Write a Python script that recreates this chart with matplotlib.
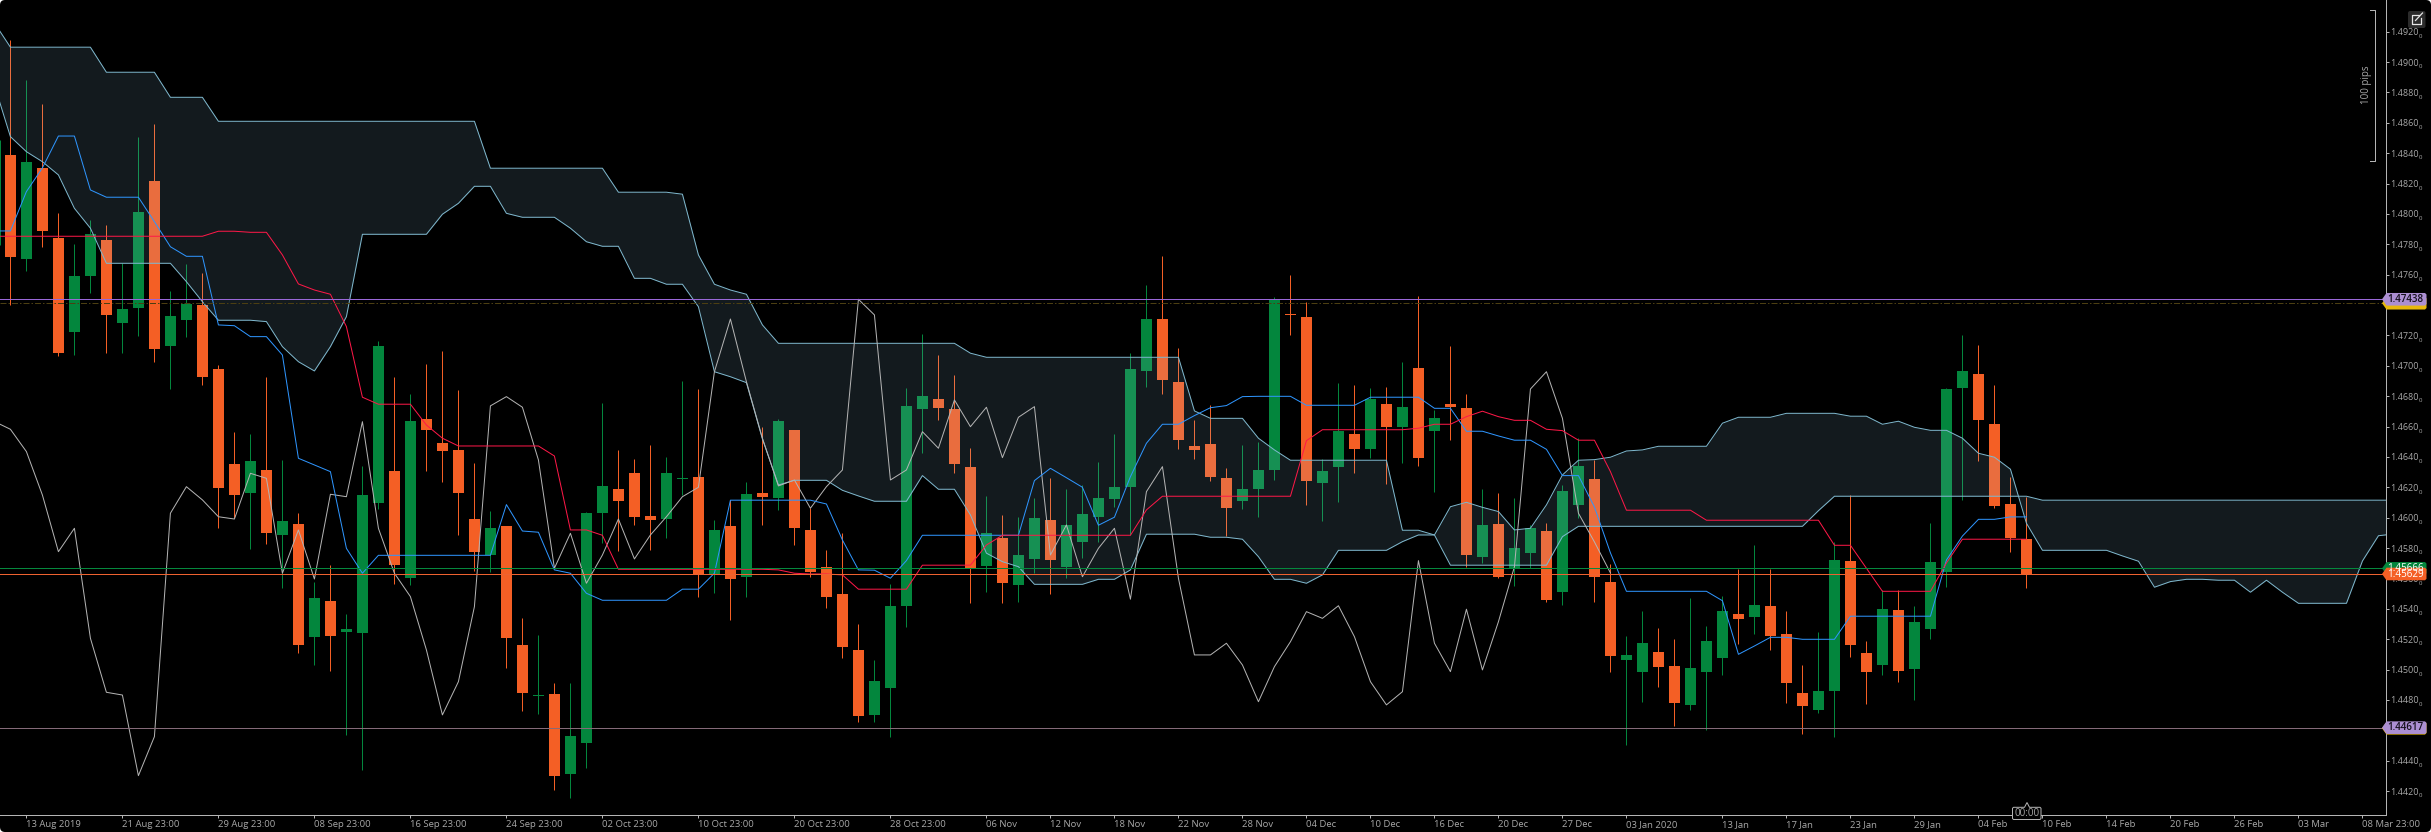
import numpy as np
import matplotlib
matplotlib.use("Agg")
import matplotlib.pyplot as plt
from matplotlib.patches import FancyBboxPatch, Polygon
from matplotlib.transforms import IdentityTransform

W, H = 2431, 832
plt.rcParams['font.family'] = ['Open Sans', 'DejaVu Sans']

highs = [1.49146,1.48882,1.48724,1.48004,1.47802,1.47960,1.47927,1.47677,1.48507,1.48592,
1.47493,1.47671,1.47611,1.47005,1.46564,1.46551,1.46926,1.46380,1.46029,1.45576,
1.45688,1.45366,1.46340,1.47163,1.46926,1.46814,1.47012,1.47098,1.46841,1.46360,
1.46044,1.45945,1.45340,1.45228,1.44911,1.44911,1.46037,1.46755,1.46446,1.46386,
1.46479,1.46400,1.46900,1.46847,1.45985,1.46117,1.46235,1.46597,1.46650,1.46577,
1.46064,1.45787,1.45899,1.45300,1.45063,1.45563,1.46854,1.47210,1.47071,1.46940,
1.46459,1.46143,1.46018,1.46005,1.46130,1.46261,1.46189,1.46215,1.46367,1.46551,
1.47084,1.47532,1.47723,1.47117,1.46643,1.46742,1.46327,1.46479,1.46498,1.47453,
1.47598,1.47420,1.46386,1.46887,1.46874,1.46854,1.46861,1.47025,1.47460,1.46709,
1.47131,1.46814,1.46189,1.46163,1.46130,1.45952,1.45965,1.46215,1.46525,1.46380,
1.45695,1.45221,1.45386,1.45274,1.45201,1.45471,1.45287,1.45484,1.45662,1.45820,
1.45662,1.45386,1.45030,1.45247,1.45840,1.46149,1.45188,1.45524,1.45524,1.45419,
1.45965,1.46854,1.47203,1.47137,1.46874,1.46268,1.46136]

lows = [1.47401,1.47626,1.47784,1.47065,1.47071,1.47478,1.47086,1.47086,1.47196,1.47027,
1.46849,1.47192,1.46874,1.45934,1.45996,1.45794,1.45827,1.45539,1.45111,1.45030,
1.44992,1.44569,1.44340,1.46059,1.45563,1.45557,1.46308,1.46235,1.45886,1.45649,
1.45642,1.45010,1.44727,1.44707,1.44207,1.44154,1.44352,1.45833,1.45781,1.45952,
1.45787,1.45866,1.46149,1.45478,1.45504,1.45326,1.45478,1.45952,1.46051,1.45820,
1.45610,1.45405,1.45076,1.44655,1.44655,1.44556,1.45280,1.46426,1.46643,1.46294,
1.45438,1.45511,1.45438,1.45445,1.45636,1.45498,1.45603,1.45735,1.45840,1.46070,
1.45886,1.46861,1.46814,1.46452,1.46386,1.46242,1.45879,1.46057,1.46005,1.46248,
1.47203,1.46084,1.45978,1.46103,1.46294,1.46393,1.46222,1.46360,1.46340,1.46169,
1.46512,1.45675,1.45702,1.45603,1.45550,1.45669,1.45445,1.45425,1.45998,1.45445,
1.44984,1.44503,1.44786,1.44885,1.44628,1.44734,1.44602,1.44964,1.45168,1.45234,
1.45129,1.44780,1.44576,1.44714,1.44556,1.45083,1.44773,1.44964,1.44918,1.44799,
1.45201,1.45544,1.46117,1.46373,1.46064,1.45774,1.45537]

opens = [1.48388,1.47705,1.48303,1.47842,1.47225,1.47593,1.47829,1.47284,1.47383,1.48217,
1.47133,1.47304,1.47401,1.46979,1.46354,1.46165,1.46314,1.45886,1.45958,1.45214,
1.45451,1.45249,1.45241,1.46097,1.46307,1.45603,1.46650,1.46492,1.46446,1.45991,
1.45754,1.45945,1.45162,1.44826,1.44839,1.44312,1.44516,1.46031,1.46189,1.46294,
1.46011,1.45991,1.46255,1.46268,1.45629,1.45945,1.45610,1.46163,1.46130,1.46577,
1.45919,1.45675,1.45498,1.45129,1.44701,1.44879,1.45419,1.46716,1.46782,1.46716,
1.46334,1.45682,1.45866,1.45557,1.45728,1.45985,1.45675,1.45840,1.46005,1.46123,
1.46202,1.46966,1.47308,1.46894,1.46472,1.46485,1.46261,1.46110,1.46189,1.46314,
1.47341,1.47322,1.46228,1.46334,1.46551,1.46452,1.46749,1.46597,1.46986,1.46571,
1.46749,1.46722,1.45741,1.45958,1.45669,1.45768,1.45912,1.45511,1.46084,1.46255,
1.45576,1.45063,1.44984,1.45116,1.45023,1.44767,1.44984,1.45076,1.45366,1.45346,
1.45419,1.45234,1.44846,1.44734,1.44859,1.45715,1.45109,1.45030,1.45392,1.45004,
1.45267,1.45642,1.46854,1.46946,1.46617,1.46090,1.45860]

closes = [1.47719,1.48342,1.47890,1.47086,1.47592,1.47868,1.47335,1.47374,1.48013,1.47111,
1.47328,1.47407,1.46926,1.46197,1.46149,1.46373,1.45899,1.45978,1.45162,1.45471,
1.45221,1.45267,1.46149,1.47131,1.45688,1.46637,1.46577,1.46439,1.46163,1.45774,
1.45932,1.45208,1.44846,1.44832,1.44299,1.44562,1.46031,1.46209,1.46110,1.46005,
1.45985,1.46294,1.46261,1.45623,1.45919,1.45596,1.46156,1.46136,1.46637,1.45932,
1.45642,1.45478,1.45149,1.44694,1.44925,1.45419,1.46736,1.46801,1.46722,1.46354,
1.45669,1.45899,1.45570,1.45754,1.45998,1.45721,1.45952,1.46024,1.46130,1.46202,
1.46979,1.47308,1.46907,1.46512,1.46446,1.46268,1.46064,1.46189,1.46314,1.47440,
1.47335,1.46242,1.46307,1.46571,1.46452,1.46782,1.46597,1.46729,1.46393,1.46656,
1.46729,1.45754,1.45952,1.45610,1.45800,1.45932,1.45458,1.46176,1.46340,1.45610,
1.45089,1.45096,1.45175,1.45017,1.44780,1.45010,1.45188,1.45386,1.45333,1.45425,
1.45221,1.44911,1.44760,1.44859,1.45721,1.45162,1.44984,1.45399,1.44990,1.45313,
1.45708,1.46847,1.46966,1.46643,1.46077,1.45866,1.45629]

# one candle of which only the wick shows at the left edge
edge_wick_x = -0.62
edge_wick = [1.48487, 1.47796]

# index -1 .. 126
tenkan = [1.47888,1.47888,1.48147,1.48303,1.48513,1.48513,1.48158,1.48110,1.48110,1.48110,1.47949,
1.47784,1.47721,1.47721,1.47269,1.47264,1.47192,1.47192,1.47071,1.46391,1.46347,1.46303,1.45798,1.45634,
1.45752,1.45752,1.45752,1.45752,1.45752,1.45752,1.45752,1.45752,1.46086,1.45912,1.45904,1.45656,1.45634,1.45502,
1.45456,1.45456,1.45456,1.45456,1.45456,1.45529,1.45529,1.45634,1.46115,1.46115,1.46115,1.46115,1.46115,
1.46115,1.46090,1.45853,1.45656,1.45654,1.45601,1.45717,
1.45884,1.45884,1.45884,1.45884,1.45884,1.45884,1.45884,1.46244,1.46325,1.46263,1.46200,1.45950,1.46003,1.46270,1.46490,
1.46615,1.46615,1.46672,1.46724,1.46738,1.46797,1.46799,1.46799,1.46799,
1.46740,1.46740,1.46740,1.46740,1.46793,1.46793,1.46793,1.46793,1.46720,1.46720,1.46569,1.46569,1.46538,1.46510,1.46510,1.46450,
1.46277,1.46277,1.46070,1.45768,1.45515,1.45515,1.45515,1.45515,1.45515,1.45515,1.45453,1.45100,1.45155,1.45212,1.45212,
1.45199,1.45199,1.45199,1.45351,1.45351,1.45351,1.45351,1.45351,1.45351,1.45721,1.45879,1.45989,1.45989,1.46005,1.46005]

kijun = [1.47853]*14 + [1.47886,1.47886,1.47879,1.47879,1.47730,1.47539,1.47499,1.47471,1.47258,1.46793,
1.46747,1.46747,1.46747,1.46610,1.46523] + [1.46472]*6 + [1.46406,1.45919,1.45919,1.45884] + [1.45660]*10 + [1.45656,1.45634,
1.45629,1.45629,1.45623] + [1.45529]*4 + [1.45687]*4 + [1.45820] + [1.45884]*9 + [1.46051] + [1.46141]*9 + [1.46507] + [1.46579]*6 + [
1.46589,1.46615,1.46615,1.46665,1.46701,1.46665,1.46641,1.46641,1.46582,1.46573,1.46510,1.46510,1.46303] + [1.46049]*5 + [1.45983]*8 + [
1.45818,1.45818,1.45667] + [1.45515]*4 + [1.45702] + [1.45858]*5

# index -1 .. 100
chikou = [1.46633,1.46582,1.46435,1.46149,1.45776,1.45930,1.45206,1.44850,1.44832,1.44301,1.44558,
1.46029,1.46204,1.46117,1.46006,1.45991,1.46292,1.46259,1.45634,1.45919,1.45596,
1.46154,1.46138,1.46632,1.45930,1.45634,1.45480,1.45129,1.44701,1.44920,1.45414,
1.46736,1.46797,1.46727,1.46380,1.45667,1.45897,1.45568,1.45754,1.45991,1.45728,
1.45886,1.46006,1.46138,1.46200,1.46961,1.47308,1.46895,1.46523,1.46209,1.46248,
1.46062,1.46204,1.46314,1.47438,1.47335,1.46248,1.46314,1.46566,1.46457,1.46775,
1.46599,1.46727,1.46395,1.46661,1.46731,1.45754,1.45952,1.45611,1.45798,1.45930,
1.45463,1.46171,1.46336,1.45601,1.45096,1.45096,1.45173,1.45030,1.44788,1.45019,
1.45183,1.45381,1.45337,1.45420,1.45216,1.44920,1.44767,1.44854,1.45717,1.45173,
1.44986,1.45397,1.44997,1.45315,1.45677,1.46847,1.46961,1.46654,1.46029,1.45840,1.45636]

# index -1 .. 149
senkou_b = [1.49258] + [1.49098]*6 + [1.48933]*4 + [1.48768]*3 + [1.48610]*17 + [1.48301]*8 + [1.48143]*4 + [
1.48130,1.47730,1.47537,1.47499,1.47471,1.47269] + [1.47148]*12 + [1.47083] + [1.47056]*13 + [1.46703] + [1.46654]*3 + [
1.46523,1.46446] + [1.46378]*7 + [1.45917,1.45917,1.45886] + [1.45687]*7 + [1.45875] + [1.45943]*15 + [1.46046] + [1.46141]*13 + [1.46115]*23

senkou_a = [1.48849,1.48509,1.48410,1.48344,1.48257,1.48037,1.47906] + [1.47675]*5 + [1.47554,1.47422] + [1.47300]*3 + [
1.47291,1.47126,1.47027,1.46966,1.47126,1.47324] + [1.47866]*5 + [1.47998,1.48070,1.48182,1.48182,1.48004] + [1.47978]*3 + [
1.47906,1.47817,1.47787,1.47787,1.47576,1.47576,1.47537,1.47537,1.47389,1.46961,1.46928,1.46889,1.46518,1.46215,
1.46246,1.46246,1.46246,1.46180,1.46143] + [1.46108]*3 + [1.46277,1.46187,1.46187,1.46018,1.45766,1.45710,1.45677] + [1.45561]*4 + [
1.45594,1.45594,1.45656] + [1.45891]*4 + [1.45871,1.45871,1.45858,1.45743,1.45594,1.45594,1.45568,1.45623] + [1.45785]*4 + [
1.45842,1.45886,1.45886,1.46072,1.46101,1.46068,1.46040,1.45919,1.45930,1.46084,1.46281,1.46378,1.46382,1.46398,1.46439,1.46446] + [1.46470]*4 + [
1.46622] + [1.46661]*3 + [1.46687]*4 + [1.46668,1.46668,1.46615,1.46635,1.46595,1.46575,1.46575,1.46523,1.46424,1.46398,1.46319,1.45963] + [1.45785]*5 + [
1.45748,1.45713,1.45542,1.45579,1.45594,1.45594,1.45588,1.45588,1.45509,1.45588,1.45509] + [1.45436]*4 + [1.45715,1.45881,1.45893]

tick_idx = [1,7,13,19,25,31,37,43,49,55,61,65,69,73,77,81,85,89,93,97,101,107,111,115,119,123,127,131,135,139,143,147]
tick_labels = ['13 Aug 2019','21 Aug 23:00','29 Aug 23:00','08 Sep 23:00','16 Sep 23:00','24 Sep 23:00','02 Oct 23:00',
 '10 Oct 23:00','20 Oct 23:00','28 Oct 23:00','06 Nov','12 Nov','18 Nov','22 Nov','28 Nov','04 Dec','10 Dec','16 Dec',
 '20 Dec','27 Dec','03 Jan 2020','13 Jan','17 Jan','23 Jan','29 Jan','04 Feb','10 Feb','14 Feb','20 Feb','26 Feb','03 Mar','08 Mar 23:00']
price_ticks = [1.4920,1.4900,1.4880,1.4860,1.4840,1.4820,1.4800,1.4780,1.4760,1.4720,1.4700,1.4680,1.4660,
 1.4640,1.4620,1.4600,1.4580,1.4560,1.4540,1.4520,1.4500,1.4480,1.4440,1.4420]

level_top = 1.47438
level_top_dash = 1.47412
level_bottom = 1.44617
level_bottom_dash = 1.44613
bid_level = 1.45666
ask_level = 1.45629

ORANGE = '#F45F25'
GREEN = '#03863D'
AXC = '#B4B4B4'
TXT = '#A8A8A8'
PX = 0.72

fig = plt.figure(figsize=(W/100, H/100), dpi=100, facecolor='white')
fig.add_artist(FancyBboxPatch((0, 0), W, H, boxstyle='round,pad=0,rounding_size=5', transform=IdentityTransform(),
                              fc='black', ec='none', zorder=-5))
ax = fig.add_axes([0, 17/H, 2385.5/W, 815/H], facecolor='none', zorder=1)
ax.set_xlim(-0.65, 148.44)
ax.set_ylim(1.4920-(815-31.7)/15186, 1.4920+31.7/15186)

n = len(highs)
x = np.arange(n)
o, c, hi, lo = map(np.array, (opens, closes, highs, lows))
colors = [GREEN if c[i] > o[i] else ORANGE for i in range(n)]
ax.vlines(x, lo, hi, colors=colors, lw=PX, zorder=2)
ax.vlines([edge_wick_x], edge_wick[1], edge_wick[0], colors=GREEN, lw=PX, zorder=2)
ax.bar(x, np.abs(c-o), bottom=np.minimum(o, c), width=0.68, color=colors, lw=0, zorder=2.1)

xb = np.arange(-1, len(senkou_a)-1)
ax.fill_between(xb, senkou_a, senkou_b, color=(157/255, 214/255, 243/255), alpha=0.125, lw=0, zorder=3)
line_kw = dict(lw=PX, antialiased=True)
ax.plot(xb, senkou_a, color='#7FB8CE', zorder=4, **line_kw)
ax.plot(xb, senkou_b, color='#7FB8CE', zorder=4, **line_kw)
ax.plot(np.arange(-1, len(chikou)-1), chikou, color='#B4B4B4', zorder=4.1, **line_kw)
ax.plot(np.arange(-1, len(tenkan)-1), tenkan, color='#2F96FF', zorder=4.2, **line_kw)
ax.plot(np.arange(-1, len(kijun)-1), kijun, color='#FF1848', zorder=4.3, **line_kw)

ax.axhline(level_top_dash, color='#4C3F12', lw=PX, ls=(0, (6, 2, 1.5, 2)), zorder=5)
ax.axhline(level_bottom_dash, color='#7A4E1C', lw=PX, ls=(0, (4, 2)), zorder=5)
ax.axhline(level_top, color='#9A68D8', lw=PX, zorder=5.1)
ax.axhline(level_bottom, color='#856A78', lw=PX, zorder=5.1)
ax.axhline(bid_level, color='#05893E', lw=PX, zorder=5.1)
ax.axhline(ask_level, color='#EE6230', lw=PX, zorder=5.1)

for s in ('top', 'left'):
    ax.spines[s].set_visible(False)
for s in ('right', 'bottom'):
    ax.spines[s].set_color(AXC)
    ax.spines[s].set_linewidth(PX)
ax.yaxis.tick_right()
ax.set_yticks(price_ticks, [f'{v:.4f}' for v in price_ticks])
ax.set_xticks(tick_idx, tick_labels)
ax.tick_params(axis='y', length=2.2, width=PX, color=AXC, labelcolor=TXT, labelsize=6.5, pad=1.2)
ax.tick_params(axis='x', length=2.2, width=PX, color=AXC, labelcolor=TXT, labelsize=6.8, pad=1.5)
for t in ax.get_xticklabels():
    t.set_ha('left')
for v in price_ticks:
    ax.annotate('0', xy=(1, v), xycoords=('axes fraction', 'data'), xytext=(24, -3.4), textcoords='offset points',
                color=TXT, fontsize=4.4, va='center', ha='left', annotation_clip=False)

# overlay in pixel coordinates for the price tags and chart furniture
ov = fig.add_axes([0, 0, 1, 1], facecolor='none', zorder=3)
ov.set_xlim(0, W); ov.set_ylim(H, 0); ov.axis('off')

def price_y(p):
    return H - ax.transData.transform((0, p))[1]

def tag(p, fc, txt=None, tc='white', bold=False, h=6.3, right=2426.5):
    y = price_y(p)
    pts = [(2382, y), (2386.5, y-h), (right-1.5, y-h), (right, y-h+1.5), (right, y+h-1.5), (right-1.5, y+h), (2386.5, y+h)]
    ov.add_patch(Polygon(pts, closed=True, fc=fc, ec='none'))
    if txt:
        ov.text(2405.5, y+0.2, txt, color=tc, fontsize=7.1, ha='center', va='center',
                fontweight='semibold' if bold else 'normal')

tag(level_top_dash, '#E8B80C')
tag(level_top, '#AC8FD2', f'{level_top:.5f}', '#15101C', True)
tag(level_bottom_dash, '#E8B80C')
tag(level_bottom, '#AC8FD2', f'{level_bottom:.5f}', '#15101C', True)
tag(bid_level, GREEN, f'{bid_level:.5f}')
tag(ask_level, ORANGE, f'{ask_level:.5f}')

# 100 pips bracket
ov.plot([2370, 2374.6, 2374.6, 2370], [9.5, 9.5, 161, 161], color=AXC, lw=PX)
ov.text(2366.8, 85, '100 pips', color=TXT, fontsize=7, rotation=90, ha='center', va='center')

# pop-out icon
ov.add_patch(FancyBboxPatch((2408, 11), 17.5, 17, boxstyle='round,pad=0,rounding_size=2', fc='#2B2B2B', ec='none'))
ov.plot([2419, 2412, 2412, 2421, 2421], [14.5, 14.5, 24, 24, 18], color='#E6E6E6', lw=0.9)
ov.plot([2415.5, 2422.5], [20.5, 13], color='#E6E6E6', lw=0.9)

# crosshair time flag
tx = 2012.5; tr = 2041
ov.add_patch(Polygon([(tx+1, 807.3), (2024.5, 807.3), (2027, 802.5), (2029.5, 807.3), (tr-1, 807.3), (tr, 808.3),
                      (tr, 818.5), (tr-1, 819.5), (tx+1, 819.5), (tx, 818.5), (tx, 808.3)], closed=True, fc='black', ec=AXC, lw=PX))
ov.text(2026.8, 813.5, '00:00', color=TXT, fontsize=7, ha='center', va='center')

fig.savefig('out.png', dpi=100, facecolor=fig.get_facecolor())
